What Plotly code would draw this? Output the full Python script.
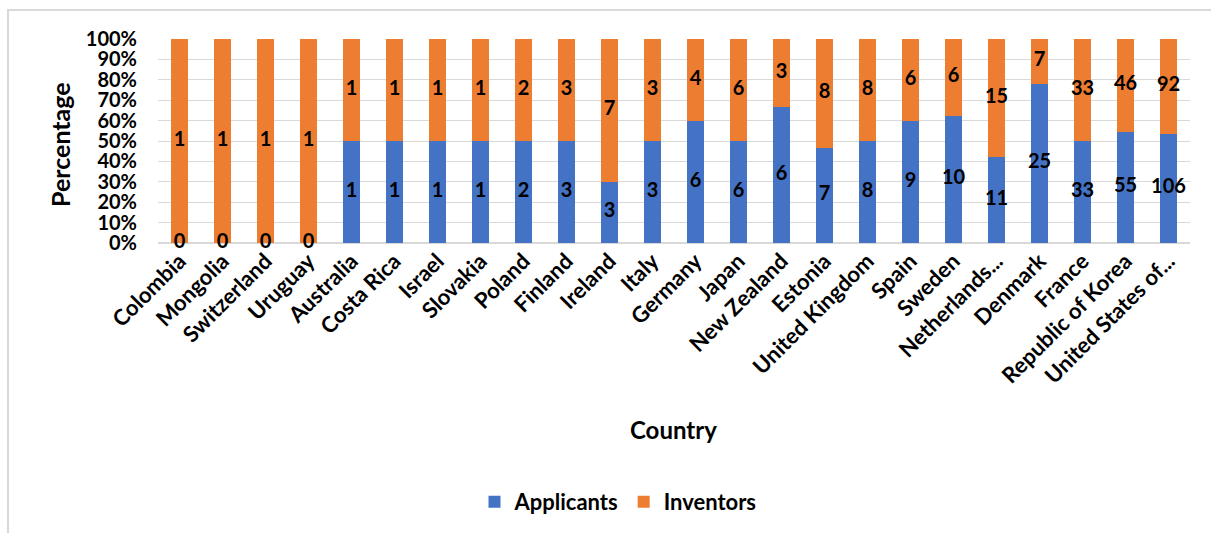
import numpy as np
import plotly.graph_objects as go

countries = ["Colombia", "Mongolia", "Switzerland", "Uruguay", "Australia", "Costa Rica",
             "Israel", "Slovakia", "Poland", "Finland", "Ireland", "Italy", "Germany", "Japan",
             "New Zealand", "Estonia", "United Kingdom", "Spain", "Sweden", "Netherlands...",
             "Denmark", "France", "Republic of Korea", "United States of..."]
applicants = [0, 0, 0, 0, 1, 1, 1, 1, 2, 3, 3, 3, 6, 6, 6, 7, 8, 9, 10, 11, 25, 33, 55, 106]
inventors = [1, 1, 1, 1, 1, 1, 1, 1, 2, 3, 7, 3, 4, 6, 3, 8, 8, 6, 6, 15, 7, 33, 46, 92]

BLUE = "#4472C4"
ORANGE = "#ED7D31"
FONT = "Lato"

app = np.array(applicants, dtype=float)
inv = np.array(inventors, dtype=float)
tot = app + inv
app_pct = app / tot * 100
inv_pct = inv / tot * 100

# Plot-area geometry in pixels
W, H = 1211, 533
L, R, T, B = 158, 21, 39, 290
pw, ph = W - L - R, H - T - B


def px_x(px):
    return (px - L) / pw


def px_y(py):
    return (H - B - py) / ph


label_font = dict(family=FONT, size=20, color="black", weight="bold")

fig = go.Figure()
fig.add_bar(x=countries, y=app_pct, name="Applicants", marker_color=BLUE,
            marker_line_width=0)
fig.add_bar(x=countries, y=inv_pct, name="Inventors", marker_color=ORANGE,
            marker_line_width=0)

# Segment count labels, centred in each stacked segment
fig.add_scatter(x=countries, y=app_pct / 2, mode="text", text=[str(v) for v in applicants],
                textfont=label_font, showlegend=False, hoverinfo="skip", cliponaxis=False)
fig.add_scatter(x=countries, y=app_pct + inv_pct / 2, mode="text",
                text=[str(v) for v in inventors],
                textfont=label_font, showlegend=False, hoverinfo="skip", cliponaxis=False)

fig.update_layout(
    width=W, height=H,
    barmode="stack", bargap=0.6,
    paper_bgcolor="white", plot_bgcolor="white",
    margin=dict(l=L, r=R, t=T, b=B, autoexpand=False),
    font=dict(family=FONT, size=19, color="black", weight="bold"),
    legend=dict(orientation="h", x=px_x(618), xanchor="center", y=px_y(502),
                yanchor="middle",
                font=dict(family=FONT, size=22, color="black", weight="bold"),
                traceorder="normal"),
    xaxis=dict(range=[-0.5, len(countries) - 0.5], tickangle=-45, showgrid=False,
               showline=False, ticks="",
               tickfont=dict(family=FONT, size=22, color="black", weight="bold")),
    yaxis=dict(range=[0, 100], dtick=10, ticksuffix="%", gridcolor="#D9D9D9",
               gridwidth=1, zeroline=True, zerolinecolor="#D9D9D9", showline=False,
               ticklabelstandoff=20,
               tickfont=dict(family=FONT, size=20, color="black", weight="bold")),
    annotations=[
        dict(text="Percentage", xref="paper", yref="paper", x=px_x(60), y=px_y(145),
             textangle=-90, showarrow=False, xanchor="center", yanchor="middle",
             font=dict(family=FONT, size=25, color="black", weight="bold")),
        dict(text="Country", xref="paper", yref="paper", x=px_x(673), y=px_y(430),
             showarrow=False, xanchor="center", yanchor="middle",
             font=dict(family=FONT, size=24, color="black", weight="bold")),
    ],
    shapes=[
        dict(type="rect", xref="paper", yref="paper", x0=px_x(8), x1=px_x(1230),
             y0=px_y(560), y1=px_y(10), line=dict(color="#D9D9D9", width=2),
             fillcolor="rgba(0,0,0,0)", layer="below"),
    ],
)

fig.write_html("out.html")
